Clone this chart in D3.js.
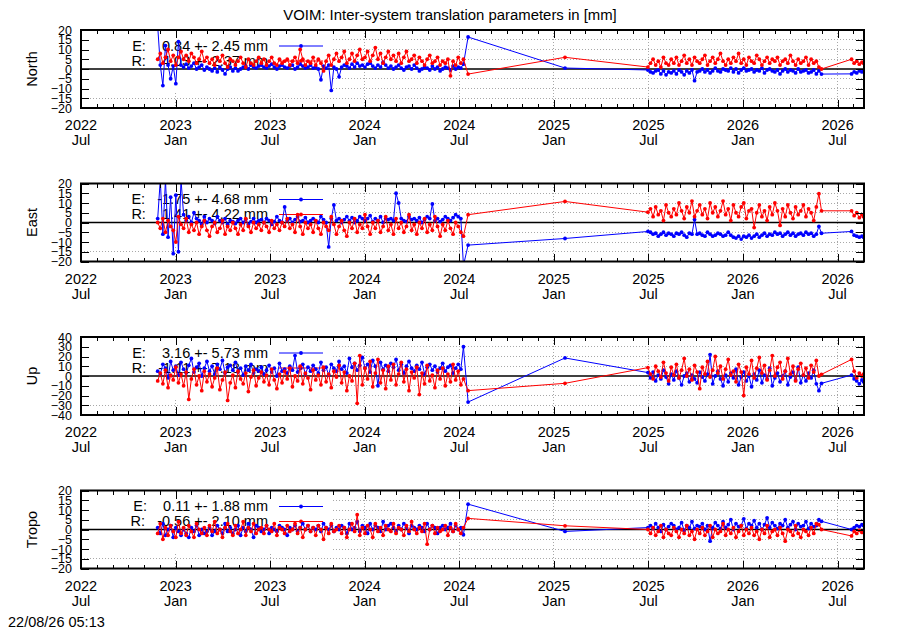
<!DOCTYPE html>
<html lang="en">
<head>
<meta charset="utf-8">
<title>VOIM: Inter-system translation parameters</title>
<script type="text/javascript" src="https://cdn.jsdelivr.net/npm/d3@7"></script>
<style type="text/css">
	body { margin: 0; background: #fff; }
	svg text { font-family: "Liberation Sans", Arial, sans-serif; fill: black; }
	.axis path { display: none; }
	.axis line { stroke: black; shape-rendering: crispEdges; }
	.axis text { font-size: 12.5px; }
	.grid line { stroke: #a8a8a8; stroke-dasharray: 1,2; shape-rendering: crispEdges; }
</style>
</head>
<body>
<script type="text/javascript">
// x axis: days since 2022-07-01, ticks every half year
var tickDays = [0, 182.5, 365, 547.5, 730, 912.5, 1095, 1277.5, 1460];
var tickYears = ["2022", "2023", "2023", "2024", "2024", "2025", "2025", "2026", "2026"];
var tickMonths = ["Jul", "Jan", "Jul", "Jan", "Jul", "Jan", "Jul", "Jan", "Jul"];

var panelNames = ["North", "East", "Up", "Tropo"];
var panelLimits = [20, 20, 40, 20];
var panelSteps = [5, 5, 10, 5];
var keyE = ["E:    0.84 +- 2.45 mm", "E:   -1.75 +- 4.68 mm", "E:    3.16 +- 5.73 mm", "E:    0.11 +- 1.88 mm"];
var keyR = ["R:    4.03 +- 2.37 mm", "R:    1.41 +- 4.22 mm", "R:   -1.11 +- 7.18 mm", "R:   -0.56 +- 2.10 mm"];

// epochs (days since 2022-07-01)
var days = [
	148,153,158,163,168,173,178,183,188,193, 198,203,208,213,218,223,228,233,238,243,
	248,253,258,263,268,273,278,283,288,293, 298,303,308,313,318,323,328,333,338,343,
	348,353,358,363,368,373,378,383,388,393, 398,403,408,413,418,423,428,433,438,443,
	448,453,458,463,468,473,478,483,488,493, 498,503,508,513,518,523,528,533,538,543,
	548,553,558,563,568,573,578,583,588,593, 598,603,608,613,618,623,628,633,638,643,
	648,653,658,663,668,673,678,683,688,693, 698,703,708,713,718,723,728,733,738,
	747, 934,
	1094,1099,1104,1109,1114,1119,1124,1129,1134,1139, 1144,1149,1154,1159,1164,1169,1174,1179,1184,1189,
	1194,1199,1204,1209,1214,1219,1224,1229,1234,1239, 1244,1249,1254,1259,1264,1269,1274,1279,1284,1289,
	1294,1299,1304,1309,1314,1319,1324,1329,1334,1339, 1344,1349,1354,1359,1364,1369,1374,1379,1384,1389,
	1394,1399,1404,1409,1414,1419,1424,1429,
	1487,1492,1497,1502,1507,1510
];

var northE = [
	22, 2, -8.5, 12, 2, -5, 1.5, -7.5, 14, 2,
	1, 2.5, 0.5, 1.5, 3, 0, 1, 2, -0.5, 1,
	0, -1, 0.5, -1.5, 1, -0.5, -2.5, 0, 1, -1,
	0.5, -1, 0, 1, 1.5, 0, 2, 1, 0.5, 1.5,
	2, 1, 0.5, 1.5, 2.5, 1, 0, 1.5, 2, 1,
	0.5, 1.5, 2, 0, 1, 2.5, 1.5, 0.5, 1, 2,
	0.5, 1, 0, -5.5, 1.5, 0.5, 2, -11, 1, 0,
	-4, 1, 2, 1.5, 0.5, 2.5, 1, 3, 1.5, 2,
	1, 2.5, 3, 1.5, 0.5, 2, 1, 3.5, 2, 0.5,
	1.5, 0, 1, 2, 0.5, -0.5, 1, 1.5, 0, 2,
	0.5, -1, 0, 1, 0.5, -0.5, 1.5, 0, 1, -1,
	0, 1, 0.5, -0.5, 1.5, 0, 1, 0.5, 2.5,
	16.4, 0.5,
	-0.5, -1.5, -2, -1, -0.5, -2.5, -1, -3, -1.5, -2,
	-1, -2.5, -0.5, -1.5, -3, -1, -2, -0.5, -6, -1.5,
	-1, 0, -1.5, -0.5, -2, -1, 0.5, -1, -1.5, 0,
	-0.5, -1, 0.5, -1.5, 0, -2, -0.5, 0.5, -1, -0.5,
	0, -1.5, -0.5, -1, 0.5, -2, -0.5, 0, -1, -1.5,
	-0.5, -2.5, -1, 0, -1.5, -0.5, -1, -2, 0, -1.5,
	-1, -0.5, -2, -1.5, -0.5, -2.5, -1, -2.6,
	-2.5, -1.5, -2, -1, -1.5, -1
];
var northR = [
	5, 8, 3, 6, 10, 4, 7, 2, 6, 9,
	5, 7, 4, 8, 6, 3, 5, 9, 4, 6,
	3, 5, 2, 6, 4, 7, 3, 1, 5, 4,
	2, 4, 6, 3, 1, 5, 3, 2, 4, 6,
	3, 5, 2, 4, 6, 3, 2, 5, 3, 4,
	5, 2, 4, 6, 3, 10, 5, 2, 4, 3,
	6, 2, 5, 3, -1, 4, 7, 2, 5, 8,
	4, 6, 9, 3, 5, 8, 4, 7, 10, 5,
	6, 9, 4, 7, 11, 5, 8, 3, 6, 9,
	5, 7, 4, 8, 3, 6, 9, 4, 5, 7,
	3, 6, 4, 2, 5, 7, 3, 4, 6, 2,
	4, 3, 5, -3.5, 4, 2, 6, 3, 5,
	-2.6, 6,
	1, 3, 5, 2, 4, 1, 6, 3, 2, 5,
	3, 6, 2, 4, 7, 3, 5, 2, 6, 4,
	3, 5, 7, 2, 4, 6, 3, 5, 8, 4,
	2, 5, 3, 6, 4, 8, 3, 5, 2, 6,
	4, 3, 7, 5, 2, 4, 6, 3, 5, 4,
	6, 2, 4, 5, 3, 7, 4, 2, 5, 3,
	4, 6, 2, 5, 3, 4, 1, 0,
	5, 3, 4, 2.5, 3.5, 3
];

var eastE = [
	2, 22, -6, 22, -7.5, 13, -16, 14, -15, 22,
	4, 1, 3, 0, 5, 2, 1, -1, 3, 0,
	2, 1, -0.5, 3, 1, 0, 2, -1, 1, 0.5,
	-0.5, 1, 2, 0, 1.5, -1, 0.5, 2, 0, 1,
	1.5, 0, 2, 1, -1, 0.5, 3, 1, 0, 8,
	1, 2, 0, 1.5, 3, 0.5, 1, 2.5, 0, 1,
	2, 1, 0, 3, 1.5, 0, -12.5, 2, 9, 1,
	2, 0, 1.5, 3, 1, 2.5, 0, 1, 3, 2,
	1, 2, 3.5, 0.5, 2, 1, 3, 0, 2, 1.5,
	2, 1, 15, 10, 2, 1, 0.5, 3, 1.5, 2,
	1, 2.5, 0, 1.5, 3, 2, 9.5, 1, 2, 0.5,
	1.5, 3, 2, 1, 2.5, 4, 3, 2, -22,
	-11.6, -8.2,
	-4.6, -5, -6, -5.5, -7, -6, -5, -6.5, -5.5, -6,
	-7, -5.5, -6, -5, -6.5, -7.5, -5.5, -6, 1.5, -6,
	-5.5, -6.5, -7, -5, -6, -7, -6.5, -5.5, -6, -7,
	-6.5, -5, -6.5, -7.5, -8, -7, -8.5, -7, -7.5, -6.5,
	-8, -7, -6, -7.5, -6.5, -5.5, -7, -6, -6.5, -5,
	-6, -5.5, -7, -6, -5, -6.5, -5.5, -7, -6, -5.5,
	-6.5, -5, -6, -5.5, -7, -6, -2, -5.5,
	-4.6, -6.5, -7, -7.5, -7, -7.5
];
var eastR = [
	0, -3, 2, -5, 1, -2, -4, -10, 3, -1,
	-3, 2, -5, -1, -4, 0, -6, -2, 1, -4,
	-7, -2, 0, -5, -3, 1, -6, -2, -4, 0,
	-3, -6, -1, -4, 2, -2, -5, 0, -3, -1,
	-4, 0, -2, -5, 1, -3, -1, -4, 0, -2,
	2, -3, -1, -5, 4, -2, -6, 0, -3, -1,
	-5, 1, -3, -6, 0, -2, -4, 3, -1, -6,
	-2, 1, -4, -7, 0, -3, 2, -5, -1, -3,
	4, -2, -6, 0, -3, 1, -5, -2, 3, -4,
	-1, -6, 2, -3, 0, -5, -2, 4, -4, -1,
	-6, 0, -3, 2, -5, -1, -4, 3, -2, -7,
	-1, -4, 1, -3, -6, 0, -2, -5, -7,
	4, 10.8,
	5.3, 7, 3, 8, 4, 6, 1, 9, 5, 3,
	7, 4, 10, 6, 2, 8, 5, 11, 3, 6,
	9, 4, 7, 2, 10, 5, 8, 3, 6, 11,
	4, 7, 1, 9, 5, 3, 8, 10, 2, 6,
	7, -2.6, 5, 9, 3, 6, 1, 8, 4, 10,
	6, -1.5, 7, 3, 9, 5, 2, 8, 4, 6,
	9, 3, 7, 5, 1, 8, 14.8, 6,
	6, 3.5, 5, 2.5, 4, 3
];

var upE = [
	5, 2, 12, 8, -2, 15, 6, 10, 1, 14,
	7, 3, 11, 18, 4, 9, 13, 0, 8, 15,
	5, 10, 2, 12, 7, 16, 3, 9, 11, 6,
	14, 4, 8, 1, 10, 6, 12, 3, 7, 5,
	9, 2, 6, 11, 4, 8, 0, 13, 5, 7,
	3, 10, 6, 21, 4, 8, 12, 2, 9, 5,
	11, 7, 3, 14, 6, 9, 1, 12, 8, 5,
	15, 7, 10, 3, 18, 9, 13, 6, 11, 19,
	8, 12, 4, 16, 10, -10, 14, 7, 11, 5,
	13, 9, 17, 6, 12, 3, 10, 15, 8, 5,
	11, 7, 14, 2, 9, 12, 6, 10, 4, 8,
	13, 5, 9, 11, 3, 8, 12, 7, 30,
	-26.7, 18.5,
	3.5, -2, 4, -5, 1, -3, 6, -1, -8, 2,
	-4, 5, -2, -9, 0, 3, -6, 1, -3, -7,
	4, -1, -5, 2, 22, -8, 0, 5, -3, -10,
	1, -6, 3, -2, 7, -9, -1, 4, -5, 0,
	-11, 2, -4, 6, -7, 1, -3, 8, -10, -2,
	3, -6, 0, 5, -9, -1, 4, -4, 9, -7,
	1, -5, 3, -2, 6, -8, -15, -7.5,
	1, -3, -5, -8, -4, -6
];
var upR = [
	-5, 3, -8, 6, -12, 1, -4, 9, -7, 2,
	-10, 4, -24, -3, 7, -9, 0, -15, 5, -6,
	2, -11, -2, 8, -14, -4, 4, -25, -7, 1,
	-12, 5, -3, -8, 3, -16, -1, 6, -10, -2,
	4, -6, 1, -9, 7, -4, -13, 2, -7, 5,
	-3, 8, -11, 0, -5, 10, -8, 3, -2, -14,
	6, -4, 1, -9, 9, -6, 2, -12, 5, -1,
	11, -7, 4, -15, 0, -5, 13, -28, 21, -9,
	8, -3, 15, -11, 3, 17, -7, 6, -13, 10,
	-4, 12, -9, 2, 14, -6, 7, -15, 4, -2,
	9, -19, 3, -8, 11, -5, 1, -12, 6, -3,
	8, -10, 2, -6, 12, -4, 5, -9, -3,
	-15, -7.5,
	8.6, 2, -3, 10, 5, -1, 14, 3, -5, 9,
	1, 12, -2, 6, 18, 0, 7, -4, 11, 4,
	-13, 9, 2, 15, -1, 6, 20, 3, 10, -3,
	7, 17, 1, 5, -6, 12, 4, -20, 9, 2,
	16, -2, 8, 19, 3, 11, -4, 6, 21, 0,
	9, 14, -3, 5, 18, 2, 10, -5, 7, 13,
	1, 8, -2, 11, 4, 16, 0, 1.7,
	17, 5, -2, 3, 0, 2
];

var tropoE = [
	1, -2, 3, -3, 0, 2, -4, 1, -1, -3,
	0, -2, -4, 1, -1, 2, -3, 0, -2, -1,
	1, -3, -1, 2, 0, -2, 3, -1, 1, -2,
	0, 2, -3, 1, -1, 3, 0, -4, 2, 1,
	-1, 0, 2, -2, 1, 0, -1, 2, 1, 0,
	-3, 1, 0, 2, -1, 1, 3, 0, 2, -1,
	1, 0, 2, -1, 3, 1, 0, 2, -1, 1,
	0, 2, 1, -2, 3, 0, 1, 4, -1, 2,
	1, -2, 3, 0, 2, 1, -1, 4, 0, 2,
	3, 1, -1, 2, 0, 3, 1, -2, 2, 1,
	0, 2, 1, -1, 3, 0, 2, 1, -2, 1,
	2, 0, 1, 3, -1, 2, 0, 1, -2.7,
	13, -1,
	1, 2, 0.5, 3, 1, -1, 2.5, 0, 1.5, 3,
	2, 0, 1, 3.5, -0.5, 2, 1, 4, 0.5, 2,
	1.5, 3, 0, 2, -6, 1, 3.5, 2, 0.5, 4,
	1, 2.5, 5, 0, 3, 1.5, 2, 5.5, 0.5, 3,
	2, 4.5, 1, 3, 0, 2.5, 6, 1, 3.5, 2,
	0.5, 3, 2, 5, 1, 2.5, 4, 0, 3, 1.5,
	2, 4, 0.5, 3, 1.5, 2, 5, 4.2,
	0, 1, 2, 1.5, 2.5, 2
];
var tropoR = [
	-2, 3, -5, 1, -3, 2, -1, -4, 4, -2,
	1, -3, 2, -1, -4, 3, 0, -2, 1, -3,
	2, -1, 4, -2, 0, -4, 1, 3, -1, -3,
	2, -2, 0, 4, -3, 1, -1, 3, -2, 0,
	1, -2, 2, 0, -1, 3, -3, 1, 0, -2,
	2, -1, 0, 3, -2, 1, -4, 0, 2, -1,
	1, -3, 2, 0, -5, 1, -2, 3, -1, 0,
	2, -2, 1, -4, 0, 3, -1, 7.6, -3, 1,
	-2, 2, 0, -4, 3, -1, 1, -3, 2, 0,
	-1, 3, -2, 1, 0, -3, 2, -1, 4, 0,
	-2, 1, -1, 3, -7.5, 0, 2, -2, 1, -1,
	0, 2, -3, 1, -1, 3, 0, -2, 1,
	5.7, 1.9,
	0, -2, 1, -3, -1, 2, -4, 0, -2, -3,
	1, -1, -4, 0, -2, 2, -3, -1, -5, 0,
	-2, 1, -3, -1, 2, -4, 0, -2, -1, 3,
	-3, 0, -2, 1, -4, -1, 2, -3, 0, -2,
	1, -3, -1, -5, 0, -2, 2, -4, -1, 0,
	-3, 1, -2, -6, 0, -1, -3, 2, -2, -4,
	0, -1, -3, 1, -2, 3, 2.5, 0,
	-3.3, -1, -2, -0.5, -1.5, -1
];

var seriesE = [northE, eastE, upE, tropoE];
var seriesR = [northR, eastR, upR, tropoR];

var w = 900;
var h = 630;
var left = 81, right = 864, plotH = 78;
var blue = "#0000ff", red = "#ff0000";
var fs = "14.5px";

var svg = d3.select("body").append("svg").attr("width", w).attr("height", h);
svg.append("rect").attr("width", w).attr("height", h).attr("fill", "white");

var xScale = d3.scaleLinear().domain([0, 1511]).range([left, right]);
var minorDays = d3.range(0, 1511, 182.5 / 6);

svg.append("text")
   .attr("x", 450).attr("y", 20)
   .attr("text-anchor", "middle")
   .attr("font-size", "14.9px")
   .text("VOIM: Inter-system translation parameters in [mm]");

panelNames.forEach(function(name, i) {
	var top = 30 + i * 153.5;
	var bottom = top + plotH;
	var lim = panelLimits[i];
	var yScale = d3.scaleLinear().domain([-lim, lim]).range([bottom, top]);
	var yTicks = d3.range(-lim, lim + panelSteps[i] / 2, panelSteps[i]);
	var g = svg.append("g");

	g.append("clipPath").attr("id", "clip" + i)
	 .append("rect").attr("x", left).attr("y", top).attr("width", right - left).attr("height", plotH);

	// dotted grid
	g.append("g").attr("class", "grid").selectAll("line")
	 .data(yTicks.filter(function(v) { return Math.abs(v) < lim && v !== 0; }))
	 .enter().append("line")
	 .attr("x1", left).attr("x2", right)
	 .attr("y1", function(d) { return yScale(d); })
	 .attr("y2", function(d) { return yScale(d); });
	g.append("g").attr("class", "grid").selectAll("line")
	 .data(tickDays.slice(1))
	 .enter().append("line")
	 .attr("x1", function(d) { return xScale(d); })
	 .attr("x2", function(d) { return xScale(d); })
	 .attr("y1", top).attr("y2", bottom);

	// key box
	g.append("rect").attr("x", left + 1).attr("y", top + 1).attr("width", 249).attr("height", 62).attr("fill", "white");
	[[keyE[i], blue], [keyR[i], red]].forEach(function(k, j) {
		var ky = top + 16 + j * 15;
		g.append("text")
		 .attr("x", 268).attr("y", ky + 4.5)
		 .attr("text-anchor", "end")
		 .attr("font-size", fs)
		 .style("white-space", "pre")
		 .text(k[0]);
		g.append("line").attr("x1", 279).attr("x2", 323).attr("y1", ky).attr("y2", ky)
		 .attr("stroke", k[1]).attr("stroke-width", 1);
		g.append("circle").attr("cx", 301).attr("cy", ky).attr("r", 1.9).attr("fill", k[1]);
	});

	// zero axis
	g.append("line").attr("x1", left).attr("x2", right)
	 .attr("y1", yScale(0)).attr("y2", yScale(0))
	 .attr("stroke", "black").attr("stroke-width", 1.5);

	// data
	var plot = g.append("g").attr("clip-path", "url(#clip" + i + ")");
	[[seriesE[i], blue], [seriesR[i], red]].forEach(function(s) {
		var line = d3.line()
			.x(function(d, j) { return xScale(days[j]); })
			.y(function(d) { return yScale(d); });
		plot.append("path").datum(s[0])
		    .attr("d", line)
		    .attr("fill", "none")
		    .attr("stroke", s[1])
		    .attr("stroke-width", 1);
		plot.append("g").selectAll("circle")
		    .data(s[0])
		    .enter()
		    .append("circle")
		    .attr("cx", function(d, j) { return xScale(days[j]); })
		    .attr("cy", function(d) { return yScale(d); })
		    .attr("r", 1.9)
		    .attr("fill", s[1]);
	});

	// axes and ticks (inward, mirrored)
	g.append("g").attr("class", "axis").attr("transform", "translate(" + left + ",0)")
	 .call(d3.axisLeft(yScale).tickValues(yTicks).tickSizeInner(-8).tickSizeOuter(0).tickPadding(9));
	g.append("g").attr("class", "axis").attr("transform", "translate(" + right + ",0)")
	 .call(d3.axisRight(yScale).tickValues(yTicks).tickSizeInner(-8).tickSizeOuter(0).tickFormat(""));
	g.append("g").attr("class", "axis").attr("transform", "translate(0," + bottom + ")")
	 .call(d3.axisBottom(xScale).tickValues(tickDays).tickSizeInner(-8).tickSizeOuter(0).tickFormat(""));
	g.append("g").attr("class", "axis").attr("transform", "translate(0," + bottom + ")")
	 .call(d3.axisBottom(xScale).tickValues(minorDays).tickSizeInner(-4).tickSizeOuter(0).tickFormat(""));
	g.append("g").attr("class", "axis").attr("transform", "translate(0," + top + ")")
	 .call(d3.axisTop(xScale).tickValues(tickDays).tickSizeInner(-8).tickSizeOuter(0).tickFormat(""));
	g.append("g").attr("class", "axis").attr("transform", "translate(0," + top + ")")
	 .call(d3.axisTop(xScale).tickValues(minorDays).tickSizeInner(-4).tickSizeOuter(0).tickFormat(""));

	g.append("rect").attr("x", left).attr("y", top).attr("width", right - left).attr("height", plotH)
	 .attr("fill", "none").attr("stroke", "black").attr("stroke-width", 2);

	// two line date labels
	tickDays.forEach(function(d, k) {
		g.append("text").attr("x", xScale(d)).attr("y", bottom + 22)
		 .attr("text-anchor", "middle").attr("font-size", fs).text(tickYears[k]);
		g.append("text").attr("x", xScale(d)).attr("y", bottom + 37)
		 .attr("text-anchor", "middle").attr("font-size", fs).text(tickMonths[k]);
	});

	g.append("text")
	 .attr("transform", "translate(37," + (top + plotH / 2) + ") rotate(-90)")
	 .attr("text-anchor", "middle")
	 .attr("font-size", fs)
	 .text(name);
});

svg.append("text").attr("x", 8).attr("y", 627).attr("font-size", fs).text("22/08/26 05:13");
</script>
</body>
</html>
